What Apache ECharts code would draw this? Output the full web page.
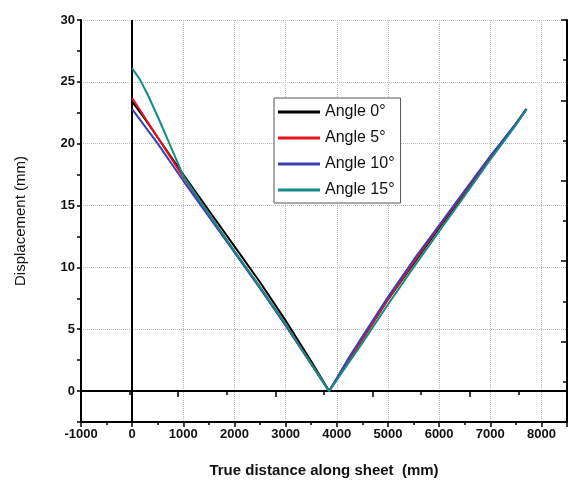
<!DOCTYPE html>
<html>
<head>
<meta charset="utf-8">
<script src="https://cdn.jsdelivr.net/npm/echarts@6/dist/echarts.min.js"></script>
<style>
html,body{margin:0;padding:0;background:#fff;}
#chart{width:568px;height:483px;}
</style>
</head>
<body>
<div id="chart"></div>
<script>
// Data (x: true distance along sheet in mm, y: displacement in mm)
var seriesNames = ['Angle 0°', 'Angle 5°', 'Angle 10°', 'Angle 15°'];
var angle0 = [[0,23.4],[250,22.0],[500,20.5],[1000,17.5],[1500,14.6],[2000,11.7],[2500,8.8],[3000,5.7],[3500,2.4],[3850,0],[4250,2.6],[4500,4.2],[5000,7.4],[5500,10.3],[6000,13.2],[6500,16.0],[7000,18.9],[7500,21.6],[7710,22.8]];
var angle5 = [[0,23.7],[250,22.1],[500,20.5],[1000,17.3],[1500,14.3],[2000,11.3],[2500,8.4],[3000,5.3],[3500,2.2],[3850,0],[4250,2.6],[4500,4.2],[5000,7.4],[5500,10.4],[6000,13.3],[6500,16.1],[7000,18.9],[7500,21.6],[7710,22.8]];
var angle10 = [[0,22.8],[250,21.4],[500,20.0],[1000,17.0],[1500,14.1],[2000,11.2],[2500,8.3],[3000,5.3],[3500,2.2],[3850,0],[4250,2.8],[4500,4.4],[5000,7.6],[5500,10.6],[6000,13.4],[6500,16.2],[7000,19.0],[7500,21.6],[7700,22.8]];
var angle15 = [[0,26.1],[150,25.2],[300,24.0],[500,22.2],[750,19.8],[1000,17.4],[1500,14.3],[2000,11.3],[2500,8.4],[3000,5.4],[3500,2.2],[3850,0],[4250,2.4],[4500,3.9],[5000,7.0],[5500,10.0],[6000,12.9],[6500,15.8],[7000,18.7],[7500,21.5],[7710,22.8]];
var seriesColors = ['#000000', '#e8141c', '#3b3fb6', '#138b87'];
var xTitle = 'True distance along sheet  (mm)';
var yTitle = 'Displacement (mm)';

var chart = echarts.init(document.getElementById('chart'));
var font = 'Liberation Sans, Arial, sans-serif';
var allData = [angle0, angle5, angle10, angle15];

var series = allData.map(function (d, i) {
  var s = {
    name: seriesNames[i],
    type: 'line',
    data: d,
    symbol: 'none',
    smooth: false,
    lineStyle: { width: 2, color: seriesColors[i] },
    itemStyle: { color: seriesColors[i] },
    z: 3 + i,
    animation: false
  };
  if (i === 0) {
    s.markLine = {
      silent: true,
      symbol: ['none', 'none'],
      label: { show: false },
      lineStyle: { color: '#000', width: 2, type: 'solid' },
      animation: false,
      z: 2,
      data: [{ xAxis: 0 }, { yAxis: 0 }]
    };
  }
  return s;
});

var option = {
  animation: false,
  backgroundColor: '#fff',
  grid: { left: 81, right: 1, top: 20, bottom: 60, show: false },
  legend: {
    orient: 'vertical',
    left: 274,
    top: 98,
    data: seriesNames.map(function (n) { return { name: n, icon: 'rect' }; }),
    itemWidth: 42,
    itemHeight: 3,
    itemGap: 10,
    padding: [6, 6, 5, 4],
    borderColor: '#555',
    borderWidth: 1,
    backgroundColor: '#fff',
    textStyle: { fontFamily: font, fontSize: 16, color: '#111', padding: [0, 0, 0, 0] }
  },
  xAxis: [
    {
      type: 'value',
      position: 'bottom',
      min: -1000, max: 8500, interval: 1000,
      name: xTitle,
      nameLocation: 'middle',
      nameGap: 41,
      nameTextStyle: { fontFamily: font, fontSize: 15, fontWeight: 'bold', color: '#111' },
      axisLine: { show: true, onZero: false, lineStyle: { color: '#000', width: 2 } },
      axisTick: { show: true, inside: false, length: 5, lineStyle: { color: '#000', width: 1.5 } },
      minorTick: { show: true, splitNumber: 2, length: 3, lineStyle: { color: '#000', width: 1.5 } },
      axisLabel: {
        showMaxLabel: false, fontFamily: font, fontSize: 13, fontWeight: 'bold', color: '#111', margin: 6,
        formatter: function (v) { return String(v); }
      },
      splitLine: { show: true, lineStyle: { color: '#bbb', type: 'dotted', width: 1 } }
    },
    {
      type: 'value',
      position: 'top',
      min: -1, max: 9, interval: 2,
      axisLine: { show: true, lineStyle: { color: '#000', width: 2 } },
      axisTick: { show: true, inside: true, length: 6, lineStyle: { color: '#000', width: 1.5 } },
      minorTick: { show: true, splitNumber: 2, length: 4, lineStyle: { color: '#000', width: 1.5 } },
      axisLabel: { show: false },
      splitLine: { show: false }
    }
  ],
  yAxis: [
    {
      type: 'value',
      position: 'left',
      min: -2.5, max: 30, interval: 2.5,
      name: yTitle,
      nameLocation: 'middle',
      nameGap: 53,
      nameTextStyle: { fontFamily: font, fontSize: 15, color: '#111' },
      axisLine: { show: true, onZero: false, lineStyle: { color: '#000', width: 2 } },
      axisTick: { show: true, inside: false, length: 4, lineStyle: { color: '#000', width: 1.5 } },
      axisLabel: {
        fontFamily: font, fontSize: 13, fontWeight: 'bold', color: '#111', margin: 6,
        formatter: function (v) { return (Math.abs(v % 5) < 1e-9) ? String(v) : ''; }
      },
      splitLine: { show: true, lineStyle: { color: ['rgba(0,0,0,0)', '#bbb'], type: 'dotted', width: 1 } }
    },
    {
      type: 'value',
      position: 'right',
      min: -1, max: 9, interval: 2,
      axisLine: { show: true, onZero: false, lineStyle: { color: '#000', width: 2 } },
      axisTick: { show: true, inside: true, length: 6, lineStyle: { color: '#000', width: 1.5 } },
      minorTick: { show: true, splitNumber: 2, length: 4, lineStyle: { color: '#000', width: 1.5 } },
      axisLabel: { show: false },
      splitLine: { show: false }
    }
  ],
  series: series
};
chart.setOption(option);
</script>
</body>
</html>
